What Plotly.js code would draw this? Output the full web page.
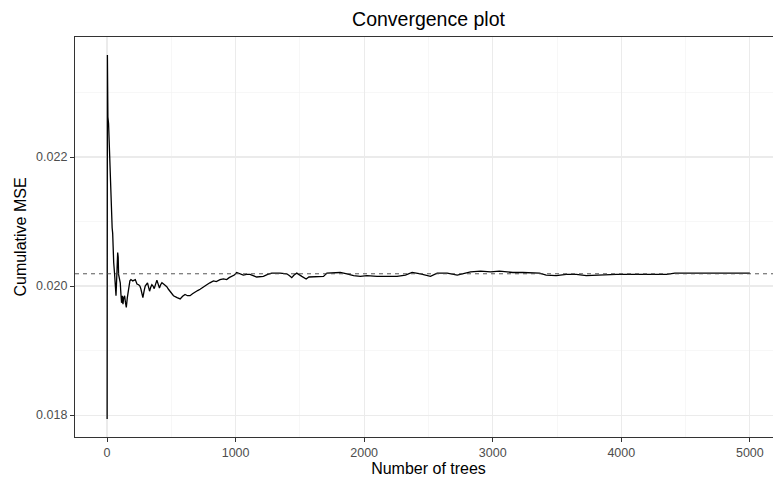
<!DOCTYPE html>
<html>
<head>
<meta charset="utf-8">
<script src="https://cdn.plot.ly/plotly-3.0.1.min.js"></script>
<style>
html, body { margin: 0; padding: 0; overflow: hidden; background: #fff; }
#chart { width: 790px; height: 480px; }
</style>
</head>
<body>
<div id="chart"></div>
<script>
// Number of trees (x) and cumulative MSE (y)
const trees = [1, 3, 4, 7, 12, 23, 28, 34, 40, 44, 48, 52, 58, 64, 70, 76, 83, 87, 90, 96,
  103, 108, 113, 119, 124, 130, 137, 143, 150, 158, 168, 178, 186, 200, 220, 233, 246, 256, 264, 279,
  289, 297, 315, 322, 331, 340, 349, 358, 367, 378, 388, 398, 408, 417, 427, 440, 452, 465, 478, 495,
  517, 545, 569, 588, 607, 626, 646, 665, 685, 705, 724, 750, 776, 800, 828, 850, 879, 905, 931, 950,
  970, 990, 1008, 1030, 1060, 1086, 1112, 1164, 1216, 1250, 1281, 1346, 1398, 1420, 1437, 1455, 1476, 1515, 1549, 1570,
  1593, 1645, 1684, 1710, 1762, 1814, 1866, 1918, 1970, 2022, 2100, 2178, 2256, 2321, 2373, 2438, 2516, 2568, 2646, 2724,
  2776, 2828, 2906, 2984, 3052, 3104, 3156, 3234, 3312, 3364, 3416, 3494, 3572, 3650, 3728, 3806, 3884, 3962, 4040, 4118,
  4196, 4274, 4352, 4417, 4508, 4586, 4664, 4742, 4820, 4898, 4976, 5000];
const mse = [0.01794, 0.02358, 0.02292, 0.02262, 0.02252, 0.02180, 0.02139, 0.02103, 0.02090, 0.02082, 0.02040, 0.02036, 0.02021, 0.01990, 0.01985, 0.02015, 0.02052, 0.02045, 0.02018, 0.02010,
  0.02005, 0.01988, 0.01974, 0.01985, 0.01972, 0.01982, 0.01985, 0.01975, 0.01967, 0.01982, 0.01997, 0.02008, 0.02010, 0.02008, 0.02010, 0.02003, 0.02002, 0.02000, 0.01995, 0.01982,
  0.01993, 0.02000, 0.02005, 0.02000, 0.01992, 0.01998, 0.02002, 0.02000, 0.01996, 0.02003, 0.02009, 0.02003, 0.01997, 0.02002, 0.02005, 0.02003, 0.02001, 0.01999, 0.01995, 0.01990,
  0.01985, 0.01982, 0.01980, 0.01984, 0.01987, 0.01985, 0.01985, 0.01988, 0.01991, 0.01993, 0.01995, 0.01999, 0.02002, 0.02005, 0.02008, 0.02007, 0.02010, 0.02011, 0.02010, 0.02013,
  0.02015, 0.02017, 0.02021, 0.02019, 0.02017, 0.02018, 0.02018, 0.02014, 0.02015, 0.02018, 0.02020, 0.02020, 0.02019, 0.02016, 0.02013, 0.02017, 0.02020, 0.02015, 0.02011, 0.02014,
  0.02014, 0.02014, 0.02015, 0.02020, 0.02021, 0.02021, 0.02019, 0.02016, 0.02015, 0.02016, 0.02015, 0.02015, 0.02015, 0.02017, 0.02021, 0.02019, 0.02015, 0.02020, 0.02020, 0.02017,
  0.02019, 0.02022, 0.02023, 0.02022, 0.02023, 0.02022, 0.02021, 0.02021, 0.02021, 0.02020, 0.02017, 0.02016, 0.02018, 0.02018, 0.02016, 0.02017, 0.02018, 0.02018, 0.02018, 0.02018,
  0.02017, 0.02018, 0.02018, 0.02020, 0.02020, 0.02020, 0.02020, 0.02021, 0.02021, 0.02021, 0.02020, 0.02020];
const referenceMSE = 0.02019;
const xTickVals = [0, 1000, 2000, 3000, 4000, 5000];
const xTickText = ["0", "1000", "2000", "3000", "4000", "5000"];
const yTickVals = [0.018, 0.020, 0.022];
const yTickText = ["0.018", "0.020", "0.022"];

const FONT = "Liberation Sans, Arial, sans-serif";

const data = [{
  x: trees, y: mse, type: "scatter", mode: "lines",
  line: { color: "#000000", width: 1.3 },
  hoverinfo: "skip", showlegend: false
}];

const layout = {
  width: 790, height: 480,
  margin: { l: 75, r: 8, t: 37, b: 43 },
  paper_bgcolor: "#ffffff", plot_bgcolor: "#ffffff",
  font: { family: FONT, color: "#000000" },
  title: {
    text: "Convergence plot",
    font: { family: FONT, size: 19.5, color: "#000000" },
    x: 0.5, xref: "paper", xanchor: "center",
    y: 1 - 19 / 480, yref: "container", yanchor: "middle"
  },
  xaxis: {
    range: [-249, 5250],
    tickvals: xTickVals, ticktext: xTickText,
    ticks: "outside", ticklen: 4, tickwidth: 1, tickcolor: "#333333",
    tickfont: { family: FONT, size: 12.5, color: "#4D4D4D" },
    showgrid: true, gridcolor: "#EBEBEB", gridwidth: 1.1,
    minor: { tickvals: [500, 1500, 2500, 3500, 4500], showgrid: true, gridcolor: "#F2F2F2", gridwidth: 0.6, ticks: "" },
    showline: true, linecolor: "#333333", linewidth: 1.1, mirror: true,
    zeroline: false,
    title: { text: "Number of trees", font: { family: FONT, size: 16, color: "#000000" }, standoff: 3 }
  },
  yaxis: {
    range: [0.01766, 0.02386],
    tickvals: yTickVals, ticktext: yTickText,
    ticks: "outside", ticklen: 4, tickwidth: 1, tickcolor: "#333333",
    tickfont: { family: FONT, size: 12.5, color: "#4D4D4D" },
    showgrid: true, gridcolor: "#EBEBEB", gridwidth: 1.1,
    minor: { tickvals: [0.019, 0.021, 0.023], showgrid: true, gridcolor: "#F2F2F2", gridwidth: 0.6, ticks: "" },
    showline: true, linecolor: "#333333", linewidth: 1.1, mirror: true,
    zeroline: false,
    title: { text: "Cumulative MSE", font: { family: FONT, size: 16, color: "#000000" }, standoff: 5 }
  },
  shapes: [{
    type: "line", xref: "paper", x0: 0, x1: 1, yref: "y", y0: referenceMSE, y1: referenceMSE,
    line: { color: "#444444", width: 0.9, dash: "4px,4px" }, layer: "above"
  }]
};

Plotly.newPlot("chart", data, layout, { displayModeBar: false, staticPlot: true });
</script>
</body>
</html>
